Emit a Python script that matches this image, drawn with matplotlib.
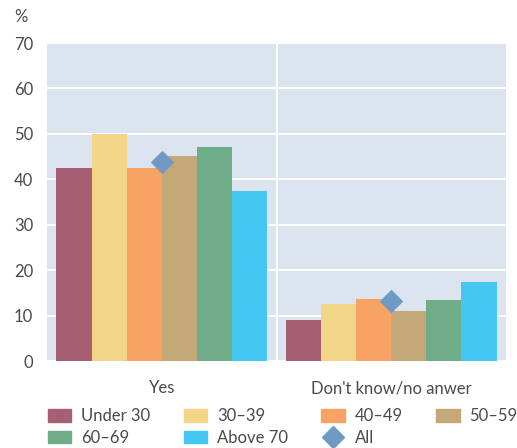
import numpy as np
import matplotlib.pyplot as plt
from matplotlib.lines import Line2D
from matplotlib.patches import Patch

plt.rcParams['font.family'] = ['Lato', 'DejaVu Sans']

categories = ['Yes', "Don't know/no anwer"]
groups = ['Under 30', '30\u201339', '40\u201349', '50\u201359', '60\u201369', 'Above 70']
values = {
    'Under 30': [42.4, 9.0],
    '30\u201339': [50.0, 12.6],
    '40\u201349': [42.4, 13.7],
    '50\u201359': [45.1, 10.9],
    '60\u201369': [47.2, 13.5],
    'Above 70': [37.5, 17.3],
}
all_values = [43.9, 13.3]
colors = ['#a65f72', '#f2d587', '#f7a363', '#c4a877', '#6fad88', '#44c8f3']
diamond_color = '#6f9ac4'
text_color = '#4a4a4a'

fig = plt.figure(figsize=(5.17, 4.48), dpi=100)
ax = fig.add_axes([47 / 517, 1 - 361 / 448, 459 / 517, 318 / 448])
ax.set_facecolor('#dbe4ef')

x = np.arange(len(categories))
w = 0.153
handles = []
for i, g in enumerate(groups):
    pos = x + (i - 2.5) * w
    ax.bar(pos, values[g], width=w, color=colors[i], edgecolor='none', zorder=3)
    handles.append(Patch(color=colors[i], label=g))

ax.scatter(x, all_values, marker='D', s=120, color=diamond_color, zorder=4)
handles.append(Line2D([], [], marker='D', linestyle='none', markersize=11,
                      color=diamond_color, label='All'))

ax.set_xlim(-0.5, 1.5)
ax.set_ylim(0, 70)
ax.set_yticks(range(0, 71, 10))
ax.yaxis.grid(True, color='white', linewidth=1.5, zorder=1)
ax.axvline(0.5, color='white', linewidth=1.5, zorder=2)
ax.set_xticks(x)
ax.set_xticklabels(categories)
ax.tick_params(length=0, labelsize=12, labelcolor=text_color)
ax.tick_params(axis='x', pad=14)
ax.tick_params(axis='y', pad=10)
for s in ax.spines.values():
    s.set_visible(False)

fig.text(14 / 517, 1 - 17 / 448, '%', fontsize=12, color=text_color, va='center')

order = [0, 4, 1, 5, 2, 6, 3]
leg = fig.legend([handles[k] for k in order], [handles[k].get_label() for k in order],
                 ncol=4, loc='upper left', bbox_to_anchor=(48 / 517, 1 - 408 / 448),
                 frameon=False, fontsize=12, handlelength=1.4, handleheight=0.8,
                 columnspacing=2.0, handletextpad=0.6, labelspacing=0.35,
                 borderpad=0, borderaxespad=0, labelcolor=text_color)

fig.savefig('out.png', dpi=100)
